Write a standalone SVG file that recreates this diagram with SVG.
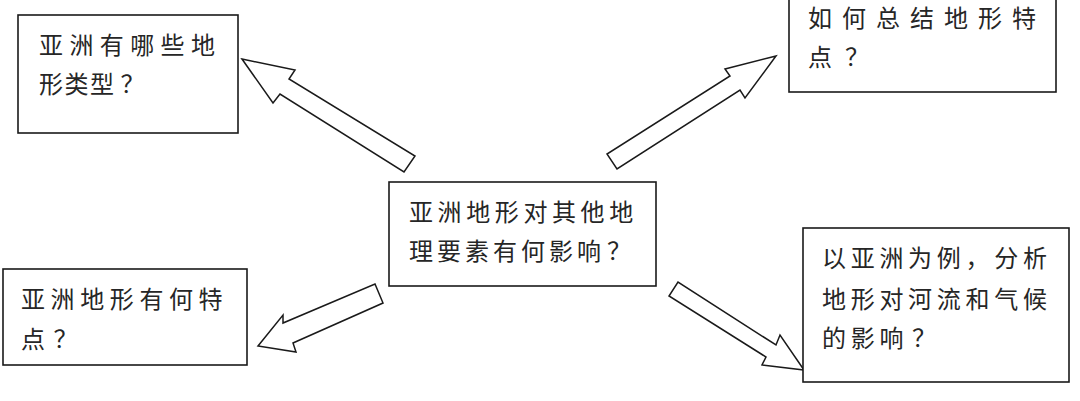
<svg xmlns="http://www.w3.org/2000/svg" width="1080" height="401" viewBox="0 0 1080 401">
  <style>
    .box { fill: #ffffff; stroke: #1a1a1a; stroke-width: 1.6; }
    .arrow { fill: #ffffff; stroke: #1a1a1a; stroke-width: 1.5; stroke-linejoin: miter; }
    .t { font-family: "Noto Sans CJK SC", "Noto Sans", sans-serif; font-size: 24px; fill: #262626; }
  </style>
  <rect x="0" y="0" width="1080" height="401" fill="#ffffff"/>

  <g id="connectors">
    <polygon class="arrow" points="242,59 295,70 289,79 415,156 404,172 280,94 273,103"/>
    <polygon class="arrow" points="776,56 725,69 730,76 607,154 617,169 740,90 745,98"/>
    <polygon class="arrow" points="258,346 283,315 283,323 375,284 383,303 293,343 296,352"/>
    <polygon class="arrow" points="804,370 780,335 776,345 678,282 669,296 766,357 762,365"/>
  </g>

  <g id="node-types">
    <rect class="box" x="18" y="15" width="220" height="118"/>
    <text class="t" x="39" y="54" letter-spacing="6.4">亚洲有哪些地</text>
    <text class="t" x="39" y="93" letter-spacing="1.5">形类型<tspan dx="5">？</tspan></text>
  </g>

  <g id="node-summary">
    <rect class="box" x="789" y="-10" width="267" height="102"/>
    <text class="t" x="808" y="27" letter-spacing="10">如何总结地形特</text>
    <text class="t" x="808" y="66" letter-spacing="10">点<tspan dx="3">？</tspan></text>
  </g>

  <g id="node-center">
    <rect class="box" x="389" y="182" width="267" height="104"/>
    <text class="t" x="409" y="221" letter-spacing="4.6">亚洲地形对其他地</text>
    <text class="t" x="409" y="260" letter-spacing="4">理要素有何影响<tspan dx="2">？</tspan></text>
  </g>

  <g id="node-features">
    <rect class="box" x="3" y="269" width="244" height="96"/>
    <text class="t" x="21" y="308" letter-spacing="5.6">亚洲地形有何特</text>
    <text class="t" x="21" y="348" letter-spacing="5.6">点<tspan dx="3">？</tspan></text>
  </g>

  <g id="node-example">
    <rect class="box" x="803" y="228" width="266" height="154"/>
    <text class="t" x="822" y="267" letter-spacing="4.7">以亚洲为例，分析</text>
    <text class="t" x="822" y="308" letter-spacing="4.7">地形对河流和气候</text>
    <text class="t" x="822" y="347" letter-spacing="4.7">的影响<tspan dx="4">？</tspan></text>
  </g>
</svg>
